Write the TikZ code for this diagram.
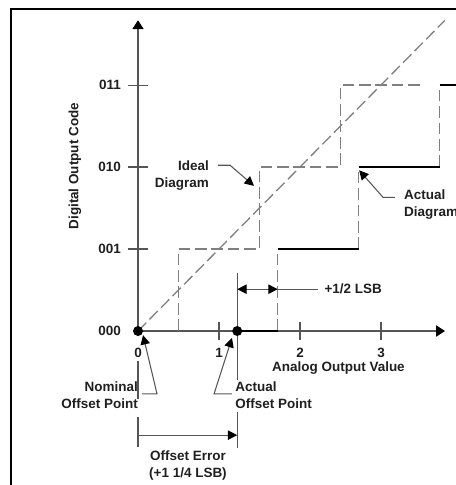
\documentclass[tikz,border=0pt]{standalone}
\usepackage{fontspec}
\setmainfont{Liberation Sans}
\usetikzlibrary{arrows.meta}
\definecolor{axisgray}{HTML}{555555}
\definecolor{dashgray}{HTML}{7F7F7F}
\tikzset{
	lbl/.style={font=\fontsize{11.5}{14.5}\selectfont\bfseries, text=black!88, inner sep=0pt},
	idealline/.style={dashgray, line width=1.1pt, dash pattern=on 10pt off 4pt},
	actline/.style={black, line width=2.3pt},
	thinline/.style={axisgray, line width=0.9pt},
	tip/.style={-{Triangle[length=8pt,width=8pt,color=black]}},
	dot/.style={circle, fill=black, inner sep=0pt, minimum size=0.3cm},
}
\begin{document}
\begin{tikzpicture}[x=2.43cm, y=2.46cm]
	\useasboundingbox (-1.704,-1.878) rectangle (3.926,4.037);
	% 外框
	\draw[line width=1.8pt] (-1.568,-2.2) -- (-1.568,3.923) -- (4.3,3.923);
	
	% 坐标轴
	\draw[thinline, -{Triangle[length=7.5pt,width=9.5pt,color=black]}] (0,0) -- (3.79,0);
	\draw[thinline, -{Triangle[length=7.5pt,width=9.5pt,color=black]}] (0,0) -- (0,3.79);
	
	% 刻度与刻度标签
	\foreach \k in {1,2,3} {
		\draw[thinline] (-0.12,\k) -- (0.12,\k);
		\draw[thinline] (\k,-0.11) -- (\k,0.11);
		\node[lbl] (x\k) at (\k,-0.27) {\k};
	}
	\node[lbl] (x0) at (0,-0.27) {0};
	\foreach \k/\code in {0/000,1/001,2/010,3/011}
		\node[lbl, anchor=east] (y\k) at (-0.21,\k) {\code};
	\node[lbl] (xlabel) at (2.475,-0.45) {Analog Output Value};
	\node[lbl, rotate=90] (ylabel) at (-0.78,2.01) {Digital Output Code};
	
	% 理想特性 (灰色虚线)
	\draw[idealline] (0,0) -- (3.79,3.79);
	\draw[idealline] (0.5,0) -- (0.5,1) -- (1.5,1) -- (1.5,2) -- (2.5,2) -- (2.5,3) -- (3.5,3);
	
	% 实际特性 (黑色粗线 + 虚线竖边)
	\foreach \k in {0,1,2}
		\draw[idealline] (1.725+\k,\k) -- (1.725+\k,\k+1);
	\draw[actline] (1.225,0) -- (1.725,0);
	\draw[actline] (1.725,1) -- (2.725,1);
	\draw[actline] (2.725,2) -- (3.725,2);
	\draw[actline] (3.725,3) -- (4.3,3);
	
	% 偏移点
	\node[dot] (O) at (0,0) {};
	\node[dot] (A) at (1.225,0) {};
	
	% 尺寸线
	\draw[thinline] (0,-0.36) -- (0,-0.83);
	\draw[thinline] (0,-1.05) -- (0,-1.415);
	\draw[thinline] (1.225,0.71) -- (A);
	\draw[thinline] (A) -- (1.225,-0.6);
	\draw[thinline] (1.225,-0.99) -- (1.225,-1.43);
	\draw[thinline, {Triangle[length=8pt,width=8pt,color=black]}-{Triangle[length=8pt,width=8pt,color=black]}] (1.225,0.51) -- (1.725,0.51);
	\node[lbl, anchor=west] (half) at (2.3,0.51) {+1/2 LSB};
	\draw[thinline] (1.725,0.51) -- ([xshift=-0.2cm]half.west);
	\draw[thinline, tip] (0,-1.27) -- (1.225,-1.27);
	\node[lbl, align=center] (offerr) at (0.617,-1.635) {Offset Error\\(+1 1/4 LSB)};
	
	% 标注与指示箭头
	\node[lbl, anchor=east, align=right] (nominal) at (0,-0.787) {Nominal\\Offset Point};
	\node[lbl, anchor=west, align=left] (actoff) at (1.2,-0.787) {Actual\\Offset Point};
	\node[lbl, anchor=east, align=right] (ideal) at (0.877,1.90) {Ideal\\Diagram};
	\node[lbl, anchor=west, align=left] (actual) at (3.284,1.537) {Actual\\Diagram};
	\coordinate (nomtip) at (0.062,-0.05);
	\coordinate (acttip) at (1.16,-0.085);
	\coordinate (idealtip) at (1.432,1.77);
	\coordinate (actualtip) at (2.73,1.96);
	\draw[thinline, tip] ([xshift=0.12cm,yshift=0.05cm]nominal.east) -- ++(0.185,0) -- (nomtip);
	\draw[thinline, tip] ([xshift=-0.1cm,yshift=0.05cm]actoff.west) -- ++(-0.22,0) -- (acttip);
	\draw[thinline, tip] ([xshift=0.27cm,yshift=0.3cm]ideal.east) -- ++(0.148,0) -- (idealtip);
	\draw[thinline, tip] ([xshift=-0.277cm,yshift=0.23cm]actual.west) -- ++(-0.145,0) -- (actualtip);
\end{tikzpicture}
\end{document}
